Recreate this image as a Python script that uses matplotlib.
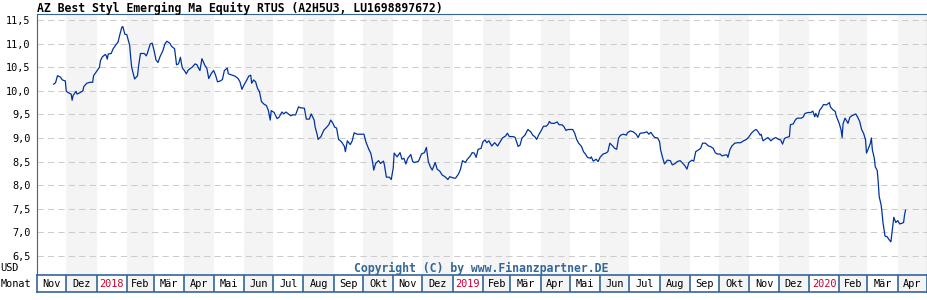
#!/usr/bin/env python3
"""Fund price chart, Nov 2017 - Apr 2020, in the Finanzpartner style."""

import matplotlib
matplotlib.use("Agg")
import matplotlib.pyplot as plt
import matplotlib.dates as mdates
import pandas as pd

START = "2017-11-01"
END = "2020-05-01"

# days after START
day_offsets = [
    17, 19, 21, 24, 26, 29, 30, 32, 35, 36, 37, 40, 41, 44, 47, 48, 51, 54, 57, 58,
    61, 64, 65, 67, 70, 71, 72, 73, 76, 78, 81, 83, 85, 87, 88, 90, 92, 95, 96, 97,
    100, 103, 104, 106, 110, 112, 113, 116, 118, 120, 122, 124, 126, 129, 131, 133,
    136, 138, 141, 142, 143, 145, 147, 148, 149, 151, 153, 155, 159, 162, 164, 166,
    167, 169, 172, 174, 176, 179, 181, 183, 185, 188, 190, 192, 195, 196, 200, 203,
    206, 208, 210, 212, 215, 217, 219, 220, 222, 224, 226, 228, 230, 233, 235, 237,
    239, 240, 243, 246, 248, 251, 253, 255, 257, 260, 262, 265, 268, 270, 274, 276,
    279, 281, 284, 285, 287, 288, 291, 294, 296, 299, 301, 303, 305, 307, 309, 312,
    315, 316, 318, 321, 323, 325, 328, 331, 335, 337, 340, 342, 344, 345, 347, 350,
    352, 355, 356, 358, 361, 363, 365, 366, 369, 372, 374, 376, 378, 380, 383, 385,
    387, 391, 394, 397, 399, 401, 403, 405, 408, 410, 413, 415, 418, 421, 423, 427,
    429, 432, 434, 436, 439, 441, 444, 446, 448, 450, 452, 455, 457, 459, 461, 463,
    466, 469, 472, 474, 477, 480, 482, 484, 488, 490, 493, 495, 497, 500, 503, 506,
    508, 510, 512, 514, 517, 519, 522, 524, 525, 527, 530, 533, 535, 538, 540, 542,
    544, 549, 551, 553, 555, 558, 560, 562, 564, 567, 568, 570, 573, 575, 577, 580,
    583, 585, 587, 590, 592, 594, 596, 598, 601, 604, 605, 608, 611, 614, 616, 618,
    622, 625, 627, 629, 631, 633, 636, 638, 639, 641, 643, 646, 649, 651, 654, 656,
    659, 661, 664, 666, 668, 671, 673, 675, 678, 680, 682, 685, 688, 690, 693, 695,
    697, 700, 702, 705, 707, 708, 710, 712, 715, 718, 721, 724, 727, 729, 732, 735,
    737, 739, 741, 742, 744, 746, 749, 752, 755, 757, 760, 762, 764, 766, 768, 771,
    772, 775, 777, 779, 783, 785, 787, 790, 793, 795, 797, 798, 800, 802, 804, 806,
    809, 812, 813, 815, 818, 819, 822, 824, 825, 826, 828, 830, 831, 833, 835, 837,
    839, 841, 843, 845, 847, 849, 850, 852, 854, 855, 856, 858, 859, 861, 862, 863,
    865, 866, 867, 869, 871, 873, 875, 876, 877, 878, 880, 882, 884, 886, 888, 889,
    890,
]

prices = [
    10.14, 10.17, 10.32, 10.29, 10.23, 10.21, 9.99, 9.96, 9.93, 9.80, 9.90, 9.99, 9.93, 9.96, 10.00, 10.09, 10.16, 10.18, 10.18, 10.32,
    10.41, 10.50, 10.64, 10.72, 10.77, 10.74, 10.67, 10.78, 10.79, 10.89, 10.98, 11.03, 11.20, 11.35, 11.36, 11.20, 11.19, 10.96, 10.71, 10.50,
    10.25, 10.32, 10.51, 10.79, 10.79, 10.74, 10.79, 10.99, 11.01, 10.85, 10.65, 10.60, 10.72, 10.85, 10.99, 11.05,
    11.01, 10.94, 10.89, 10.71, 10.55, 10.57, 10.71, 10.58, 10.48, 10.43, 10.36, 10.44, 10.50, 10.57, 10.55, 10.46,
    10.43, 10.68, 10.54, 10.48, 10.26, 10.38, 10.43, 10.33, 10.19, 10.21, 10.24, 10.43, 10.48, 10.36, 10.33, 10.31,
    10.26, 10.19, 10.03, 10.12, 10.23, 10.31, 10.33, 10.16, 10.23, 10.19, 10.05, 9.98, 9.77, 9.71, 9.69, 9.59,
    9.38, 9.58, 9.54, 9.41, 9.44, 9.55, 9.51, 9.55, 9.52, 9.47, 9.49, 9.49, 9.66, 9.64, 9.63, 9.40,
    9.40, 9.51, 9.38, 9.23, 9.08, 8.97, 9.03, 9.17, 9.21, 9.28, 9.38, 9.32, 9.23, 9.21, 8.97, 8.92,
    8.82, 8.71, 8.94, 8.86, 8.94, 9.11, 9.08, 9.08, 9.08, 8.92, 8.76, 8.68, 8.48, 8.32, 8.46, 8.52,
    8.46, 8.51, 8.43, 8.17, 8.17, 8.12, 8.36, 8.68, 8.60, 8.69, 8.55, 8.57, 8.45, 8.57, 8.65, 8.50,
    8.48, 8.51, 8.66, 8.69, 8.80, 8.50, 8.39, 8.32, 8.48, 8.34, 8.29, 8.22, 8.18, 8.12, 8.18, 8.15,
    8.15, 8.24, 8.34, 8.52, 8.48, 8.55, 8.62, 8.69, 8.68, 8.59, 8.76, 8.78, 8.92, 8.96, 8.90, 8.94,
    8.83, 8.90, 8.83, 8.90, 9.00, 9.04, 9.10, 9.03, 9.03, 9.01, 8.82, 8.85, 9.00, 9.06, 9.18, 9.13,
    9.06, 9.03, 8.97, 9.06, 9.17, 9.25, 9.25, 9.30, 9.35, 9.31, 9.31, 9.34, 9.28, 9.28, 9.24, 9.16,
    9.18, 9.18, 9.10, 8.97, 8.89, 8.82, 8.71, 8.66, 8.59, 8.57, 8.60, 8.51, 8.55, 8.50, 8.59, 8.66,
    8.68, 8.71, 8.89, 8.83, 8.78, 8.76, 9.00, 9.06, 9.08, 9.06, 9.11, 9.15, 9.13, 9.08, 9.01, 9.10,
    9.11, 9.13, 9.08, 9.12, 9.06, 9.01, 9.00, 8.92, 8.75, 8.59, 8.45, 8.53, 8.52, 8.43, 8.46, 8.50,
    8.52, 8.48, 8.41, 8.34, 8.48, 8.53, 8.51, 8.71, 8.75, 8.78, 8.89, 8.89, 8.83, 8.82, 8.78, 8.69,
    8.66, 8.66, 8.62, 8.64, 8.64, 8.59, 8.75, 8.83, 8.89, 8.90, 8.90, 8.94, 8.97, 9.01, 9.10, 9.16,
    9.18, 9.13, 9.06, 9.08, 8.94, 8.97, 9.01, 8.94, 8.99, 9.01, 8.97, 8.96, 8.87, 8.99, 9.01, 9.03,
    9.28, 9.30, 9.38, 9.42, 9.42, 9.44, 9.52, 9.54, 9.54, 9.57, 9.45, 9.52, 9.44, 9.59, 9.64, 9.71,
    9.70, 9.75, 9.66, 9.61, 9.56, 9.47, 9.31, 9.17, 9.01, 9.30, 9.42, 9.35, 9.31, 9.44, 9.47, 9.49,
    9.51, 9.44, 9.35, 9.18, 9.10, 8.96, 8.68, 8.78, 8.89, 9.00, 8.75, 8.57, 8.39, 8.31, 8.07, 7.76,
    7.58, 7.40, 7.19, 6.92, 6.91, 6.85, 6.80, 6.98, 7.18, 7.32, 7.21, 7.25, 7.18, 7.19, 7.21, 7.37,
    7.47,
]

month_names = ["Jan", "Feb", "Mär", "Apr", "Mai", "Jun",
               "Jul", "Aug", "Sep", "Okt", "Nov", "Dez"]
y_ticks = [6.5, 7.0, 7.5, 8.0, 8.5, 9.0, 9.5, 10.0, 10.5, 11.0, 11.5]

title = "AZ Best Styl Emerging Ma Equity RTUS (A2H5U3, LU1698897672)"
copyright_text = "Copyright (C) by www.Finanzpartner.DE"

BORDER = "#336699"
LINE = "#0033a0"
SHADE = "#f4f4f4"
RED = "#cc0033"
MONO = ["DejaVu Sans Mono"]

W, H = 928, 300


def main():
    dates = pd.Timestamp(START) + pd.to_timedelta(day_offsets, unit="D")
    months = pd.date_range(START, END, freq="MS")
    x0, x1 = mdates.date2num(pd.Timestamp(START)), mdates.date2num(pd.Timestamp(END))

    fig = plt.figure(figsize=(W / 100, H / 100), dpi=100)
    ax = fig.add_axes([37 / W, 25 / H, 890 / W, 261 / H])
    row = fig.add_axes([37 / W, 8 / H, 890 / W, 17 / H])

    # shaded alternate months (Dez, Feb, Apr, ...)
    for i in range(len(months) - 1):
        if i % 2 == 1:
            for a in (ax, row):
                a.axvspan(months[i], months[i + 1], color=SHADE, lw=0, zorder=0)

    for y in y_ticks:
        ax.axhline(y, color="#cccccc", lw=0.75, ls=(0, (6, 4)), zorder=1)

    ax.plot(dates, prices, color=LINE, lw=0.9, zorder=3)

    ax.set_xlim(x0, x1)
    ax.set_ylim(6.097, 11.627)
    ax.set_xticks([])
    ax.set_yticks(y_ticks)
    ax.set_yticklabels([f"{v:.1f}".replace(".", ",") for v in y_ticks],
                       family=MONO, fontsize=7.4)
    ax.tick_params(axis="y", length=0, pad=4.5)
    for s in ax.spines.values():
        s.set_color(BORDER)
        s.set_linewidth(0.8)
    ax.spines["bottom"].set_visible(False)

    # month label row
    row.set_xlim(x0, x1)
    row.set_ylim(0, 1)
    row.set_xticks([])
    row.set_yticks([])
    for s in row.spines.values():
        s.set_color(BORDER)
        s.set_linewidth(1.2)
    for m in months[1:-1]:
        row.axvline(m, color=BORDER, lw=1.2)
    for i in range(len(months) - 1):
        m = months[i]
        mid = m + (months[i + 1] - m) / 2
        if m.month == 1:
            label, col = str(m.year), RED
        else:
            label, col = month_names[m.month - 1], "black"
        row.text(mid, 0.45, label, ha="center", va="center",
                 family=MONO, fontsize=7.4, color=col)

    fig.text(37 / W, 1 - 8 / H, title, ha="left", va="center",
             family=MONO, fontsize=8.3, fontweight="bold")
    fig.text(481 / W, 1 - 268 / H, copyright_text, ha="center", va="center",
             family=MONO, fontsize=8.3, fontweight="bold", color=BORDER)
    fig.text(0.5 / W, 1 - 268 / H, "USD", ha="left", va="center",
             family=MONO, fontsize=7.4)
    fig.text(0.5 / W, 1 - 284 / H, "Monat", ha="left", va="center",
             family=MONO, fontsize=7.4)

    fig.savefig("out.png", dpi=100)
    plt.close(fig)


if __name__ == "__main__":
    main()
